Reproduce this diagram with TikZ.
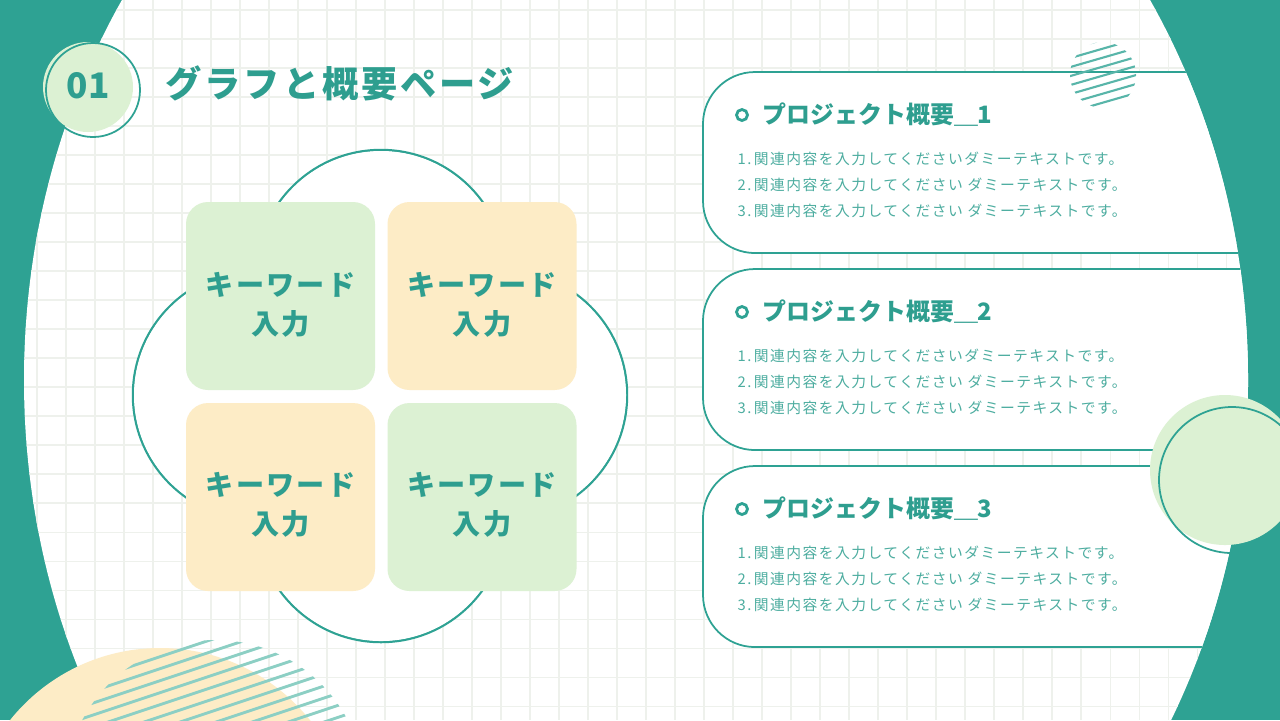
\documentclass[tikz,border=0pt]{standalone}
\usepackage{fontspec}
\newfontfamily\jp{Noto Sans CJK JP}
\newfontfamily\jpsp{Noto Sans CJK JP}[LetterSpace=10]
\newfontfamily\jpt{Noto Sans CJK JP}[LetterSpace=8]
\definecolor{teal1}{HTML}{2EA293}
\definecolor{tealtx}{HTML}{2E9E8F}
\definecolor{lgreen}{HTML}{DCF1D3}
\definecolor{lyellow}{HTML}{FDECC6}
\definecolor{gridc}{HTML}{EEF1EC}
\definecolor{hatchc}{HTML}{8CCFC4}
\begin{document}
\begin{tikzpicture}[x=0.01cm,y=-0.01cm,
  kw/.style={rounded corners=22*0.01cm,minimum width=189*0.01cm,minimum height=188*0.01cm,inner sep=0pt,align=center,font=\jp\bfseries\fontsize{8}{11}\selectfont,text=tealtx},
  kwt/.style={align=center,font=\jpt\bfseries\fontsize{8}{11}\selectfont,text=tealtx,inner sep=0pt},
  card/.style={draw=teal1,line width=0.5pt,fill=white},
  head/.style={anchor=west,font=\jp\bfseries\fontsize{6.8}{8}\selectfont,text=tealtx,inner sep=0pt},
  body/.style={anchor=west,font=\jpsp\fontsize{4.2}{7.4}\selectfont,text=tealtx!85,align=left,inner sep=0pt}]
\useasboundingbox (0,0) rectangle (1280,720);
\fill[teal1] (0,0) rectangle (1280,720);
\fill[white] (636,380) ellipse [x radius=612, y radius=700];
\begin{scope}
\clip (636,380) ellipse [x radius=612, y radius=700];
\foreach \i in {0,...,44} \draw[gridc,line width=0.3pt] (\i*29+8,0) -- (\i*29+8,720);
\foreach \j in {0,...,25} \draw[gridc,line width=0.3pt] (0,\j*29+10) -- (1280,\j*29+10);
% cards
\foreach \n/\y in {1/72,2/269,3/466}{
  \draw[card] (1300,\y) -- (755,\y) arc[start angle=90,end angle=180,radius=0.52cm] -- (703,\y+129) arc[start angle=180,end angle=270,radius=0.52cm] -- (1300,\y+181);
}
\end{scope}
% badge
\fill[lgreen] (88,87) circle[radius=45];
\draw[teal1,line width=0.5pt] (93,90) circle[radius=47];
\node[font=\jp\bfseries\fontsize{10}{12}\selectfont,text=tealtx] (num) at (88,86) {01};
\node[anchor=west,font=\jpt\bfseries\fontsize{10.3}{12}\selectfont,text=tealtx,inner sep=0pt] (title) at (165,83) {グラフと概要ページ};
% flower
\foreach \c in {(381,275),(258,395),(502,395),(381,517)} \draw[teal1,line width=0.7pt] \c circle[radius=125];
\foreach \c in {(381,275),(258,395),(502,395),(381,517)} \fill[white] \c circle[radius=124];
\node[kw,fill=lgreen] (k1) at (280.5,296) {};
\node[kw,fill=lyellow] (k2) at (482,296) {};
\node[kw,fill=lyellow] (k3) at (280.5,497) {};
\node[kw,fill=lgreen] (k4) at (482,497) {};
\node[kwt] (t1) at (280.5,305) {キーワード\\入力};
\node[kwt] (t2) at (482,305) {キーワード\\入力};
\node[kwt] (t3) at (280.5,505) {キーワード\\入力};
\node[kwt] (t4) at (482,505) {キーワード\\入力};
% card contents
\foreach \n/\y in {1/72,2/269,3/466}{
  \draw[teal1,line width=0.8pt] (742,\y+43) circle[radius=5.5];
  \node[head] (h\n) at (762,\y+43) {プロジェクト概要＿\n};
  \node[body] (b\n) at (737,\y+113) {1.\,関連内容を入力してくださいダミーテキストです。\\2.\,関連内容を入力してください ダミーテキストです。\\3.\,関連内容を入力してください ダミーテキストです。};
}
% top-right hatch
\begin{scope}
\clip (1103,75) circle[radius=33];
\foreach \k in {-4,...,4} \draw[teal1!80,line width=0.6pt] (1060,75+\k*9+13) -- (1150,75+\k*9-13);
\end{scope}
% right circle
\fill[lgreen] (1225,470) circle[radius=75];
\draw[teal1,line width=0.5pt] (1232,480) circle[radius=73];
% bottom-left
\fill[lyellow] (160,840) circle[radius=192];
\begin{scope}
\clip (215,790) circle[radius=150];
\foreach \k in {-8,...,8} \draw[hatchc,line width=0.8pt] (60,700+\k*12+50) -- (360,700+\k*12-50);
\end{scope}
\end{tikzpicture}
\end{document}
